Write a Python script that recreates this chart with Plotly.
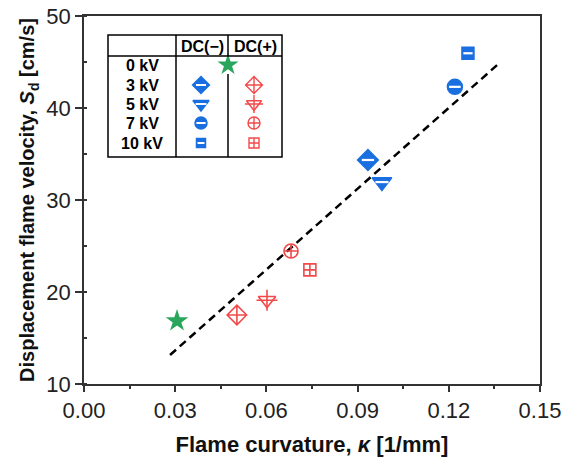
import plotly.graph_objects as go

# ---------------- data ----------------
zero_x = [0.0306]
zero_y = [16.85]

neg_labels = ["3 kV", "5 kV", "7 kV", "10 kV"]
neg_x = [0.0934, 0.0980, 0.1220, 0.1263]
neg_y = [34.35, 31.95, 42.3, 45.95]

pos_labels = ["3 kV", "5 kV", "7 kV", "10 kV"]
pos_x = [0.0503, 0.0602, 0.0681, 0.0743]
pos_y = [17.5, 19.1, 24.45, 22.4]

fit_x = [0.0283, 0.1359]
fit_y = [13.15, 44.67]

row_labels = ["0 kV", "3 kV", "5 kV", "7 kV", "10 kV"]
col_labels = ["DC(\u2212)", "DC(+)"]

BLUE = "#1a6fe0"
RED = "#f24a4a"
GREEN = "#2aa65c"
AX = "#333333"

neg_symbols = ["diamond", "triangle-down", "circle", "square"]
neg_sizes = [16, 17, 15, 12]
pos_symbols = ["diamond-cross-open", "triangle-down-open", "circle-cross-open", "square-cross-open"]
pos_sizes = [15, 15, 14, 12]

fig = go.Figure()

# fit line
fig.add_trace(go.Scatter(x=fit_x, y=fit_y, mode="lines",
                         line=dict(color="black", width=2.5, dash="8px,5px"),
                         showlegend=False, hoverinfo="skip"))

# 0 kV star
fig.add_trace(go.Scatter(x=zero_x, y=zero_y, mode="markers",
                         marker=dict(symbol="star", size=17, color=GREEN, line=dict(width=0)),
                         showlegend=False))

# DC(-) half-filled blue markers
for i in range(len(neg_x)):
    fig.add_trace(go.Scatter(x=[neg_x[i]], y=[neg_y[i]], mode="markers",
                             marker=dict(symbol=neg_symbols[i], size=neg_sizes[i], color=BLUE,
                                         line=dict(color=BLUE, width=1.5)),
                             showlegend=False))
    fig.add_trace(go.Scatter(x=[neg_x[i]], y=[neg_y[i]], mode="markers",
                             marker=dict(symbol="line-ew", size=neg_sizes[i] * 0.55, color="white",
                                         line=dict(color="white", width=2.2)),
                             showlegend=False, hoverinfo="skip"))

# DC(+) open red markers
for i in range(len(pos_x)):
    fig.add_trace(go.Scatter(x=[pos_x[i]], y=[pos_y[i]], mode="markers",
                             marker=dict(symbol=pos_symbols[i], size=pos_sizes[i], color=RED,
                                         line=dict(color=RED, width=1.6)),
                             showlegend=False))
    if pos_symbols[i] == "triangle-down-open":
        fig.add_trace(go.Scatter(x=[pos_x[i]], y=[pos_y[i]], mode="markers",
                                 marker=dict(symbol="cross-thin-open", size=pos_sizes[i], color=RED,
                                             line=dict(color=RED, width=1.6)),
                                 showlegend=False, hoverinfo="skip"))

# ---------------- legend table (pixel-coordinate overlay axes) ----------------
L, R, T, B = 84, 540, 16, 384
tx0, tx1, ty0, ty1 = 108, 282, 35, 157
c1, c2 = 176, 228
hy = 56
row_y = [65, 85, 104, 123, 143]
lab_x = 142
neg_lx, pos_lx = 201, 254

shapes = []
lw = dict(color="black", width=1.5)
shapes.append(dict(type="rect", xref="x2", yref="y2", x0=tx0, x1=tx1, y0=ty0, y1=ty1, line=lw))
shapes.append(dict(type="line", xref="x2", yref="y2", x0=tx0, x1=tx1, y0=hy, y1=hy, line=lw))
shapes.append(dict(type="line", xref="x2", yref="y2", x0=c1, x1=c1, y0=ty0, y1=ty1, line=lw))
shapes.append(dict(type="line", xref="x2", yref="y2", x0=c2, x1=c2, y0=ty0, y1=hy, line=lw))
shapes.append(dict(type="line", xref="x2", yref="y2", x0=c2, x1=c2, y0=74, y1=ty1, line=lw))

annotations = []
for lab, yy in zip(row_labels, row_y):
    annotations.append(dict(x=lab_x, y=yy, xref="x2", yref="y2", text="<b>%s</b>" % lab,
                            showarrow=False, font=dict(family="Liberation Sans", size=16, color="black")))
for lab, xx in zip(col_labels, [(c1 + c2) / 2, (c2 + tx1) / 2]):
    annotations.append(dict(x=xx, y=(ty0 + hy) / 2 + 1, xref="x2", yref="y2", text="<b>%s</b>" % lab,
                            showarrow=False, font=dict(family="Liberation Sans", size=16, color="black")))

# legend markers
fig.add_trace(go.Scatter(x=[c2], y=[row_y[0]], xaxis="x2", yaxis="y2", mode="markers",
                         marker=dict(symbol="star", size=16, color=GREEN), showlegend=False))
for i in range(4):
    fig.add_trace(go.Scatter(x=[neg_lx], y=[row_y[i + 1]], xaxis="x2", yaxis="y2", mode="markers",
                             marker=dict(symbol=neg_symbols[i], size=neg_sizes[i] - 3, color=BLUE,
                                         line=dict(color=BLUE, width=1.5)), showlegend=False))
    fig.add_trace(go.Scatter(x=[neg_lx], y=[row_y[i + 1]], xaxis="x2", yaxis="y2", mode="markers",
                             marker=dict(symbol="line-ew", size=(neg_sizes[i] - 3) * 0.55, color="white",
                                         line=dict(color="white", width=2)), showlegend=False))
    fig.add_trace(go.Scatter(x=[pos_lx], y=[row_y[i + 1]], xaxis="x2", yaxis="y2", mode="markers",
                             marker=dict(symbol=pos_symbols[i], size=pos_sizes[i] - 2, color=RED,
                                         line=dict(color=RED, width=1.4)), showlegend=False))
    if pos_symbols[i] == "triangle-down-open":
        fig.add_trace(go.Scatter(x=[pos_lx], y=[row_y[i + 1]], xaxis="x2", yaxis="y2", mode="markers",
                                 marker=dict(symbol="cross-thin-open", size=pos_sizes[i] - 2, color=RED,
                                             line=dict(color=RED, width=1.4)), showlegend=False))

tickfont = dict(family="Liberation Sans", size=22, color="#222222")

fig.update_layout(
    width=571, height=459,
    margin=dict(l=L, r=571 - R, t=T, b=459 - B),
    paper_bgcolor="white", plot_bgcolor="white",
    showlegend=False,
    shapes=shapes, annotations=annotations,
    xaxis=dict(range=[0, 0.15], tickvals=[0, 0.03, 0.06, 0.09, 0.12, 0.15],
               ticktext=["0.00", "0.03", "0.06", "0.09", "0.12", "0.15"],
               showgrid=False, zeroline=False, showline=True, linecolor=AX, linewidth=1.5,
               mirror=True, ticks="outside", ticklen=6, tickwidth=1.5, tickcolor=AX,
               minor=dict(dtick=0.015, tick0=0, ticks="outside", ticklen=3, tickwidth=1.5, tickcolor=AX),
               tickfont=tickfont, automargin=False,
               title=dict(text="<b>Flame curvature, <i>\u03ba</i> [1/mm]</b>",
                          font=dict(family="Liberation Sans", size=22, color="#111111"), standoff=14)),
    yaxis=dict(range=[10, 50], tickvals=[10, 20, 30, 40, 50],
               showgrid=False, zeroline=False, showline=True, linecolor=AX, linewidth=1.5,
               mirror=True, ticks="outside", ticklen=7, tickwidth=1.5, tickcolor=AX,
               minor=dict(dtick=5, tick0=10, ticks="inside", ticklen=3, tickwidth=1.5, tickcolor=AX),
               tickfont=tickfont, automargin=False,
               title=dict(text="<b>Displacement flame velocity, <i>S</i><sub>d</sub> [cm/s]</b>",
                          font=dict(family="Liberation Sans", size=20, color="#111111"), standoff=6)),
    xaxis2=dict(range=[L, R], overlaying="x", visible=False, fixedrange=True),
    yaxis2=dict(range=[B, T], overlaying="y", visible=False, fixedrange=True),
)

fig.write_html("out.html")
